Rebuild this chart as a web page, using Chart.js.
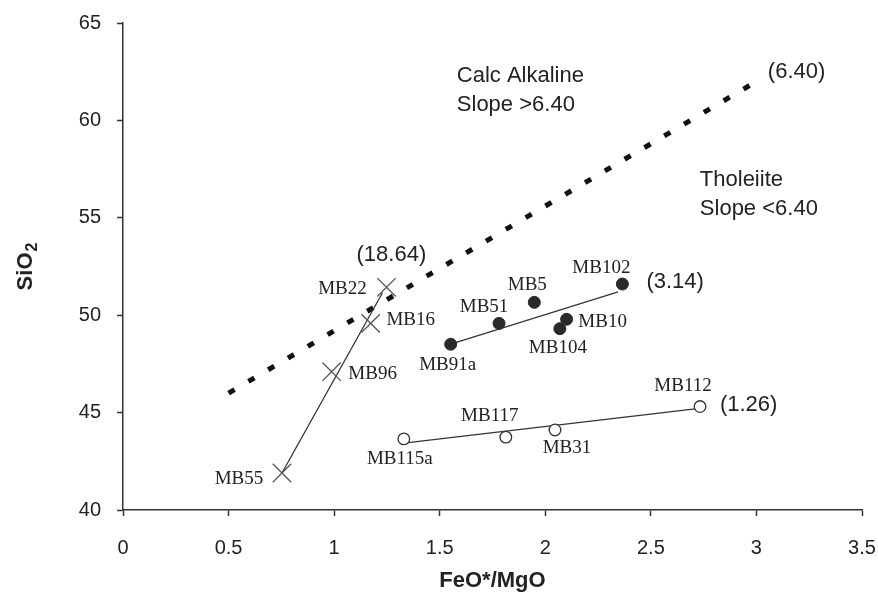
<!DOCTYPE html>
<html>
<head>
<meta charset="utf-8">
<script src="https://cdn.jsdelivr.net/npm/chart.js@4.4.1/dist/chart.umd.min.js"></script>
<style>
  html, body { margin: 0; padding: 0; background: #fff; }
  #wrap { width: 878px; height: 594px; }
</style>
</head>
<body>
<div id="wrap"><canvas id="chart" width="878" height="594"></canvas></div>
<script>
// samples plotted as crosses
const crossNames = ['MB22', 'MB16', 'MB96', 'MB55'];
const crossX = [1.248, 1.173, 0.988, 0.753];
const crossY = [51.43, 49.58, 47.10, 41.90];

// samples plotted as filled circles
const filledNames = ['MB102', 'MB5', 'MB51', 'MB10', 'MB104', 'MB91a'];
const filledX = [2.365, 1.948, 1.781, 2.101, 2.069, 1.552];
const filledY = [51.60, 50.66, 49.58, 49.79, 49.31, 48.51];

// samples plotted as open circles
const openNames = ['MB115a', 'MB117', 'MB31', 'MB112'];
const openX = [1.330, 1.813, 2.046, 2.733];
const openY = [43.65, 43.74, 44.11, 45.31];

// trend lines (end points)
const crossTrendX = [0.753, 1.229];
const crossTrendY = [41.90, 51.15];
const filledTrendX = [1.552, 2.345];
const filledTrendY = [48.51, 51.20];
const openTrendX = [1.35, 2.72];
const openTrendY = [43.46, 45.20];

// calc-alkaline / tholeiite divider (slope 6.40)
const dividerX = [0.5, 3.0];
const dividerY = [46, 62];

const xTicks = [0, 0.5, 1, 1.5, 2, 2.5, 3, 3.5];
const yTicks = [40, 45, 50, 55, 60, 65];

const toPoints = (xs, ys) => xs.map((v, i) => ({ x: v, y: ys[i] }));

// label offsets from each marker, in pixels
const labelOffsets = {
  MB22: [-44, 2], MB16: [40, -3], MB96: [41, 2], MB55: [-43, 6],
  MB102: [-21, -16], MB5: [-7, -17], MB51: [-15, -16], MB10: [36, 3], MB104: [-2, 19], MB91a: [-3, 21],
  MB115a: [-4, 20], MB117: [-16, -21], MB31: [12, 18], MB112: [-17, -21],
};

const notes = [
  { lines: ['Calc Alkaline', 'Slope >6.40'], x: 1.581, y: 62.27 },
  { lines: ['Tholeiite', 'Slope <6.40'], x: 2.732, y: 56.93 },
  { lines: ['(6.40)'], x: 3.054, y: 62.47 },
  { lines: ['(18.64)'], x: 1.106, y: 53.09 },
  { lines: ['(3.14)'], x: 2.479, y: 51.72 },
  { lines: ['(1.26)'], x: 2.827, y: 45.39 },
];

const groups = [
  { names: crossNames, xs: crossX, ys: crossY },
  { names: filledNames, xs: filledX, ys: filledY },
  { names: openNames, xs: openX, ys: openY },
];

const SANS = '"Liberation Sans", Arial, Helvetica, sans-serif';
const SERIF = '"Liberation Serif", "Times New Roman", serif';
const INK = '#222';

const labelPlugin = {
  id: 'sampleLabels',
  afterDatasetsDraw(chart) {
    const { ctx, scales: { x, y } } = chart;
    ctx.save();
    ctx.fillStyle = INK;
    ctx.textBaseline = 'middle';
    ctx.textAlign = 'center';
    ctx.font = '19px ' + SERIF;
    groups.forEach(g => g.names.forEach((name, i) => {
      const off = labelOffsets[name] || [0, 0];
      ctx.fillText(name, x.getPixelForValue(g.xs[i]) + off[0], y.getPixelForValue(g.ys[i]) + off[1]);
    }));
    ctx.textAlign = 'left';
    ctx.font = '22px ' + SANS;
    notes.forEach(n => n.lines.forEach((line, k) => {
      ctx.fillText(line, x.getPixelForValue(n.x), y.getPixelForValue(n.y) + k * 29);
    }));

    // y axis title with a proper subscript
    const cy = (y.top + y.bottom) / 2;
    ctx.translate(26, cy);
    ctx.rotate(-Math.PI / 2);
    ctx.font = 'bold 22px ' + SANS;
    const main = ctx.measureText('SiO').width;
    ctx.font = 'bold 16px ' + SANS;
    const sub = ctx.measureText('2').width;
    const start = -(main + sub + 1) / 2;
    ctx.font = 'bold 22px ' + SANS;
    ctx.fillText('SiO', start, 0);
    ctx.font = 'bold 16px ' + SANS;
    ctx.fillText('2', start + main + 1, 7);
    ctx.restore();
  }
};

const lineSet = (xs, ys, extra) => ({
  data: toPoints(xs, ys),
  showLine: true,
  pointRadius: 0,
  borderColor: '#333',
  borderWidth: 1.3,
  ...extra,
});

new Chart(document.getElementById('chart'), {
  type: 'scatter',
  data: {
    datasets: [
      {
        data: toPoints(crossX, crossY),
        pointStyle: 'crossRot',
        pointRadius: 13,
        borderColor: '#555',
        borderWidth: 1.3,
      },
      {
        data: toPoints(filledX, filledY),
        pointStyle: 'circle',
        pointRadius: 6,
        backgroundColor: '#2a2a2a',
        borderColor: '#2a2a2a',
        borderWidth: 1,
      },
      {
        data: toPoints(openX, openY),
        pointStyle: 'circle',
        pointRadius: 5.8,
        backgroundColor: '#fff',
        borderColor: '#333',
        borderWidth: 1.3,
      },
      lineSet(crossTrendX, crossTrendY),
      lineSet(filledTrendX, filledTrendY),
      lineSet(openTrendX, openTrendY),
      lineSet(dividerX, dividerY, { borderColor: '#111', borderWidth: 5, borderDash: [7, 16], borderCapStyle: 'butt' }),
    ],
  },
  options: {
    responsive: false,
    devicePixelRatio: 1,
    animation: false,
    layout: { padding: { top: 23, right: 16, bottom: 0, left: 0 } },
    plugins: { legend: { display: false }, tooltip: { enabled: false } },
    scales: {
      x: {
        type: 'linear',
        min: 0,
        max: 3.5,
        afterBuildTicks: scale => { scale.ticks = xTicks.map(v => ({ value: v })); },
        afterFit: scale => {
          scale.height = 84;
          scale.paddingLeft = 0;
          scale.paddingRight = 0;
        },
        border: { color: '#333', width: 1.5 },
        grid: { drawOnChartArea: false, tickLength: 6, color: '#333', tickWidth: 1.5 },
        ticks: { padding: 20, color: INK, font: { family: SANS, size: 20 }, callback: v => String(v) },
        title: {
          display: true,
          text: 'FeO*/MgO',
          color: INK,
          padding: { top: 0, bottom: 0 },
          font: { family: SANS, size: 22, weight: 'bold' },
        },
      },
      y: {
        type: 'linear',
        min: 40,
        max: 65,
        afterBuildTicks: scale => { scale.ticks = yTicks.map(v => ({ value: v })); },
        afterFit: scale => {
          scale.width = 123;
          scale.paddingTop = 0;
          scale.paddingBottom = 0;
        },
        border: { color: '#333', width: 1.5 },
        grid: { drawOnChartArea: false, tickLength: 6, color: '#333', tickWidth: 1.5 },
        ticks: { padding: 16, color: INK, font: { family: SANS, size: 20 }, callback: v => String(v) },
        title: { display: false },
      },
    },
  },
  plugins: [labelPlugin],
});
</script>
</body>
</html>
